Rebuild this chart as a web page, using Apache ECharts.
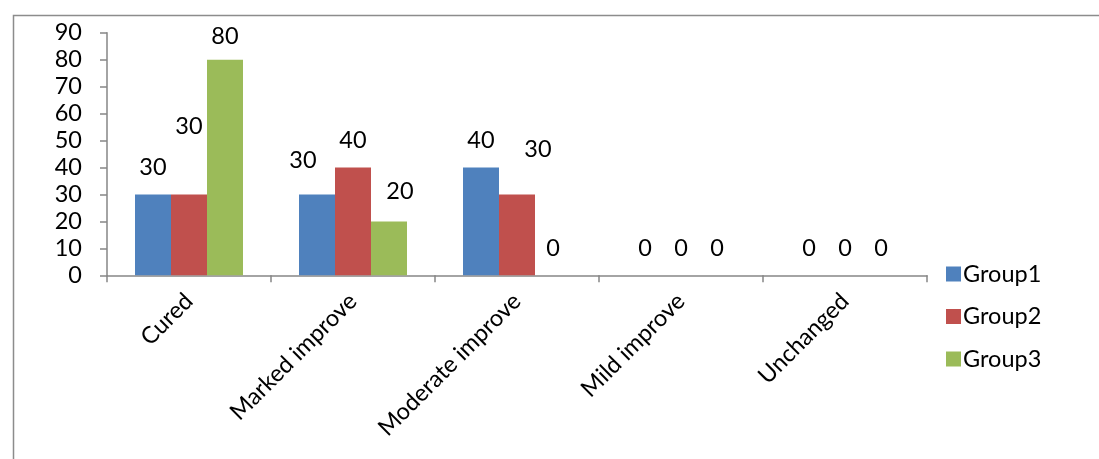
<!DOCTYPE html>
<html>
<head>
<meta charset="utf-8">
<script src="https://cdn.jsdelivr.net/npm/echarts@6/dist/echarts.min.js"></script>
<style>
  html, body { margin: 0; padding: 0; background: #fff; }
  #chart { width: 1099px; height: 459px; }
</style>
</head>
<body>
<div id="chart"></div>
<script>
const categories = ['Cured', 'Marked improve', 'Moderate improve', 'Mild improve', 'Unchanged'];
const seriesNames = ['Group1', 'Group2', 'Group3'];
const group1 = [30, 30, 40, 0, 0];
const group2 = [30, 40, 30, 0, 0];
const group3 = [80, 20, 0, 0, 0];
const yTicks = [0, 10, 20, 30, 40, 50, 60, 70, 80, 90];

const colors = ['#4F81BD', '#C0504D', '#9BBB59'];
const FONT = 'Lato';
const FS = 23.5;

// label nudges [seriesIndex, dataIndex, dx, dy] mimicking the reference's label placement
const labelNudges = [
  [0, 1, -14, -7],
  [1, 0, 0, -41],
  [1, 2, 21, -18],
  [2, 0, 0, 4],
  [2, 1, 11, -3]
];

const allValues = [group1, group2, group3];

function buildData(si) {
  return allValues[si].map((v, di) => {
    const n = labelNudges.find(x => x[0] === si && x[1] === di);
    if (n) return { value: v, label: { offset: [n[2], n[3]] } };
    return v;
  });
}

const chart = echarts.init(document.getElementById('chart'), null, { renderer: 'canvas' });

const option = {
  animation: false,
  textStyle: { fontFamily: FONT },
  graphic: [{
    type: 'rect',
    left: 11, top: 13,
    shape: { width: 1200, height: 600 },
    style: { fill: 'none', stroke: '#8c8c8c', lineWidth: 1.5 },
    silent: true
  }],
  legend: {
    orient: 'vertical',
    left: 941,
    top: 257,
    itemWidth: 15,
    itemHeight: 15,
    itemGap: 18.5,
    icon: 'rect',
    data: seriesNames,
    textStyle: { fontFamily: FONT, fontSize: FS, color: '#000', lineHeight: 24, padding: [0, 0, 0, -3] }
  },
  grid: { left: 107, right: 172, top: 32.7, bottom: 183.7, containLabel: false },
  xAxis: {
    type: 'category',
    data: categories,
    axisLine: { lineStyle: { color: '#868686', width: 1.5 } },
    axisTick: { show: true, length: 7, alignWithLabel: false, lineStyle: { color: '#868686', width: 1.5 } },
    axisLabel: { rotate: 45, interval: 0, margin: 22, color: '#000', fontFamily: FONT, fontSize: FS }
  },
  yAxis: {
    type: 'value',
    min: yTicks[0],
    max: yTicks[yTicks.length - 1],
    interval: 10,
    axisLine: { show: true, lineStyle: { color: '#868686', width: 1.5 } },
    axisTick: { show: true, length: 7, lineStyle: { color: '#868686', width: 1.5 } },
    splitLine: { show: false },
    axisLabel: { margin: 25, color: '#000', fontFamily: FONT, fontSize: FS }
  },
  series: seriesNames.map((name, si) => ({
    name: name,
    type: 'bar',
    barWidth: 36,
    barGap: '0%',
    itemStyle: { color: colors[si] },
    label: {
      show: true,
      position: 'top',
      distance: 15,
      color: '#000',
      fontFamily: FONT,
      fontSize: FS
    },
    data: buildData(si)
  }))
};

chart.setOption(option);
</script>
</body>
</html>
